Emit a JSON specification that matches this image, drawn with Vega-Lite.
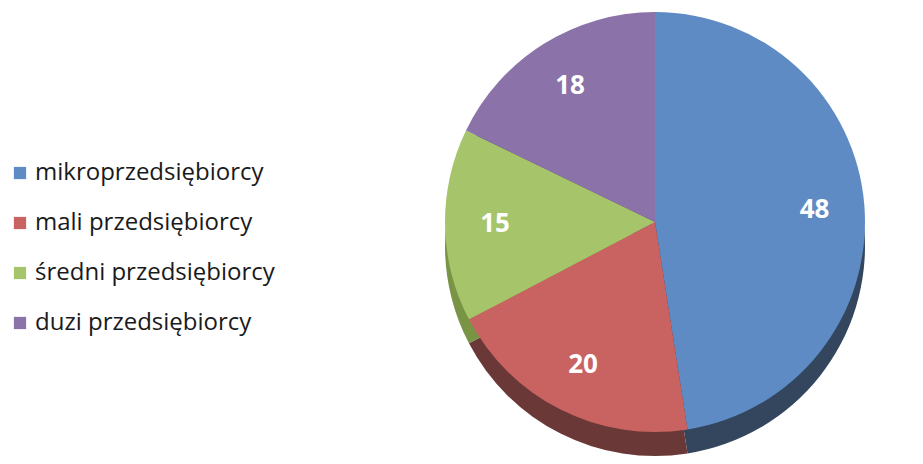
{
  "$schema": "https://vega.github.io/schema/vega-lite/v6.json",
  "width": 420,
  "height": 420,
  "autosize": "none",
  "padding": {"left": 445, "top": 12, "right": 58, "bottom": 32},
  "background": "white",
  "config": {"view": {"stroke": null}},
  "data": {
    "values": [
      {"kategoria": "mikroprzedsiębiorcy", "wartosc": 48, "kolejnosc": 1},
      {"kategoria": "mali przedsiębiorcy", "wartosc": 20, "kolejnosc": 2},
      {"kategoria": "średni przedsiębiorcy", "wartosc": 15, "kolejnosc": 3},
      {"kategoria": "duzi przedsiębiorcy", "wartosc": 18, "kolejnosc": 4}
    ]
  },
  "encoding": {
    "theta": {"field": "wartosc", "type": "quantitative", "stack": true},
    "order": {"field": "kolejnosc", "type": "quantitative"}
  },
  "layer": [
    {
      "mark": {"type": "arc", "outerRadius": 210, "yOffset": 24},
      "encoding": {
        "color": {
          "field": "kategoria",
          "type": "nominal",
          "scale": {
            "domain": ["mikroprzedsiębiorcy", "mali przedsiębiorcy", "średni przedsiębiorcy", "duzi przedsiębiorcy"],
            "range": ["#33465e", "#6a3836", "#7a9446", "#5e4a78"]
          },
          "legend": null
        }
      }
    },
    {
      "mark": {"type": "arc", "outerRadius": 210},
      "encoding": {
        "color": {
          "field": "kategoria",
          "type": "nominal",
          "scale": {
            "domain": ["mikroprzedsiębiorcy", "mali przedsiębiorcy", "średni przedsiębiorcy", "duzi przedsiębiorcy"],
            "range": ["#5f8bc4", "#c96361", "#a6c46a", "#8b72a8"]
          },
          "legend": {
            "title": null,
            "orient": "none",
            "legendX": -437,
            "legendY": 149,
            "symbolType": "square",
            "symbolSize": 150,
            "symbolStrokeWidth": 0,
            "labelFont": "Open Sans",
            "labelFontSize": 24,
            "labelColor": "#1a1a1a",
            "labelOffset": 3,
            "rowPadding": 26,
            "labelLimit": 400
          }
        }
      }
    },
    {
      "mark": {"type": "text", "radius": 160, "font": "Open Sans", "fontSize": 26, "fontWeight": "bold", "color": "white"},
      "encoding": {
        "text": {"field": "wartosc", "type": "quantitative"}
      }
    }
  ],
  "resolve": {"scale": {"color": "independent"}}
}
